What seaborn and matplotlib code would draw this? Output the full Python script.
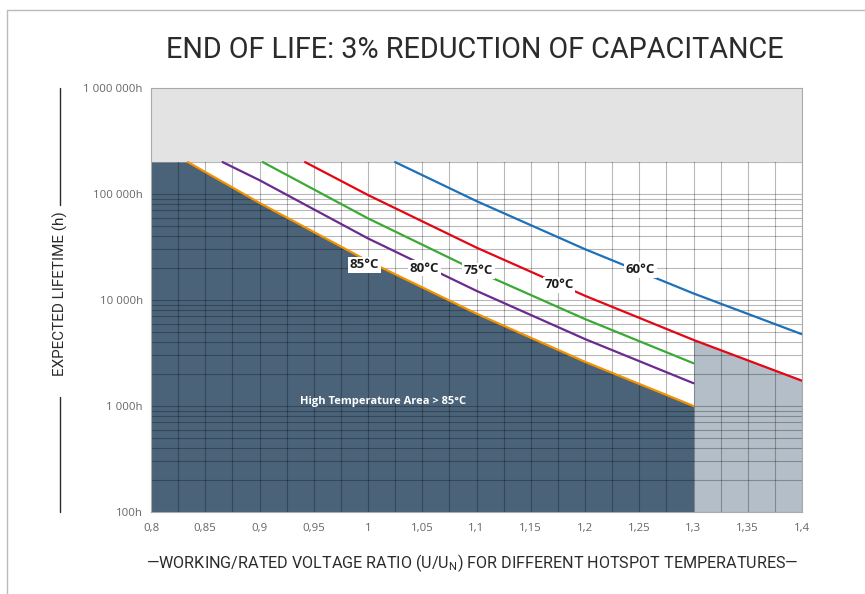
import numpy as np
import pandas as pd
import matplotlib
matplotlib.use("Agg")
import matplotlib.pyplot as plt
from matplotlib.ticker import FixedLocator, MultipleLocator, LogLocator, NullFormatter
import seaborn as sns

# ---------------- DATA ----------------
temps = ["85°C", "80°C", "75°C", "70°C", "60°C"]
x_85 = [0.834, 0.9, 1.0, 1.1, 1.2, 1.3]
life_85 = [200000, 82400, 23300, 7430, 2610, 1000]
x_80 = [0.866, 0.9, 1.0, 1.1, 1.2, 1.3]
life_80 = [200000, 135000, 38100, 12200, 4280, 1640]
x_75 = [0.903, 1.0, 1.1, 1.2, 1.3]
life_75 = [200000, 58900, 18800, 6610, 2530]
x_70 = [0.942, 1.0, 1.1, 1.2, 1.3, 1.4]
life_70 = [200000, 97800, 31200, 10960, 4200, 1730]
x_60 = [1.025, 1.1, 1.2, 1.3, 1.4]
life_60 = [200000, 85700, 30150, 11530, 4750]

label_x = [0.997, 1.052, 1.102, 1.176, 1.251]
label_y = [21400, 20000, 18800, 13900, 19200]

band_low, band_high = 200000, 1000000
xticks = [0.8, 0.85, 0.9, 0.95, 1.0, 1.05, 1.1, 1.15, 1.2, 1.25, 1.3, 1.35, 1.4]
xtick_labels = ["0,8", "0,85", "0,9", "0,95", "1", "1,05", "1,1", "1,15", "1,2", "1,25", "1,3", "1,35", "1,4"]
yticks = [100, 1000, 10000, 100000, 1000000]
ytick_labels = ["100h", "1 000h", "10 000h", "100 000h", "1 000 000h"]
high_temp_text = "High Temperature Area > 85°C"
high_temp_pos = (1.014, 1110)
limit_x = 1.3

title = "END OF LIFE: 3% REDUCTION OF CAPACITANCE"
ylabel = "EXPECTED LIFETIME (h)"
xlabel = r"—WORKING/RATED VOLTAGE RATIO (U/U$_{\mathregular{N}}$) FOR DIFFERENT HOTSPOT TEMPERATURES—"

colors = {"85°C": "#f39200", "80°C": "#6b2a8e", "75°C": "#3aaa35",
          "70°C": "#e30613", "60°C": "#1d71b8"}

# ---------------- build table ----------------
series = {"85°C": (x_85, life_85), "80°C": (x_80, life_80), "75°C": (x_75, life_75),
          "70°C": (x_70, life_70), "60°C": (x_60, life_60)}
rows = []
for t in temps:
    xs, ys = series[t]
    for a, b in zip(xs, ys):
        rows.append({"ratio": a, "life": b, "temp": t})
df = pd.DataFrame(rows)

sns.set_theme(style="white")
narrow = ["Roboto", "DejaVu Sans"]
plt.rcParams["font.family"] = narrow
plt.rcParams["mathtext.fontset"] = "custom"
plt.rcParams["mathtext.rm"] = "Roboto"

fig = plt.figure(figsize=(8.65, 5.94), dpi=100)
ax = fig.add_axes([151 / 865, 1 - 512 / 594, 651 / 865, 424 / 594])
ax.set_yscale("log")
ax.set_xlim(0.8, 1.4)
ax.set_ylim(100, 1000000)

# dark high-temperature area under the 85°C line
fx = [0.8] + x_85
fy = [band_low] + life_85
ax.fill_between(fx, fy, 100, color="#4b6379", lw=0, zorder=1)
# light area right of the limit, below the 70°C line
lx = [a for a in x_70 if a >= limit_x]
ly = [b for a, b in zip(x_70, life_70) if a >= limit_x]
ax.fill_between(lx, ly, 100, color="#b4bec8", lw=0, zorder=1)

# grid
ax.xaxis.set_major_locator(FixedLocator(xticks))
ax.xaxis.set_minor_locator(MultipleLocator(0.025))
ax.yaxis.set_major_locator(FixedLocator(yticks))
ax.yaxis.set_minor_locator(LogLocator(base=10, subs=np.arange(2, 10)))
ax.yaxis.set_minor_formatter(NullFormatter())
ax.set_axisbelow(False)
ax.grid(True, which="both", axis="both", color="black", alpha=0.28, lw=0.8)

# top band
ax.axhspan(band_low, band_high, color="#e3e3e3", lw=0, zorder=3)

sns.lineplot(data=df, x="ratio", y="life", hue="temp", palette=colors, hue_order=temps,
             sort=False, estimator=None, lw=1.6, legend=False, ax=ax, zorder=4)

for t, lxp, lyp in zip(temps, label_x, label_y):
    ax.text(lxp, lyp, t, ha="center", va="center", fontsize=9.5, fontweight="bold",
            color="#1e1e1e", family=["Open Sans", "DejaVu Sans"], zorder=5,
            bbox=dict(boxstyle="square,pad=0.12", fc="white", ec="none"))

ax.text(high_temp_pos[0], high_temp_pos[1], high_temp_text, ha="center", va="center",
        fontsize=8, fontweight="bold", color="white", family=["Open Sans", "DejaVu Sans"], zorder=5)

ax.set_xticklabels(xtick_labels)
ax.set_yticklabels(ytick_labels)
ax.tick_params(axis="both", which="major", labelsize=8.2, labelcolor="#666666",
               length=3, width=0.8, color="#888888", direction="out")
ax.tick_params(axis="y", which="minor", length=0)
ax.tick_params(axis="x", which="minor", length=0)
ax.tick_params(axis="x", which="major", pad=5)
ax.tick_params(axis="y", which="major", pad=3)
for lab in ax.get_xticklabels() + ax.get_yticklabels():
    lab.set_family(["Open Sans", "DejaVu Sans"])
for s in ["top", "right", "bottom", "left"]:
    ax.spines[s].set_color("#aaaaaa")
    ax.spines[s].set_linewidth(0.8)
for s in ax.spines.values():
    s.set_zorder(6)
ax.set_xlabel("")
ax.set_ylabel("")

# texts around the plot
fig.text(475 / 865, 1 - 50 / 594, title, ha="center", va="center", fontsize=20.7,
         color="#2b2b2b", family=narrow)
fig.text(472 / 865, 1 - 563 / 594, xlabel, ha="center", va="center", fontsize=11.6,
         color="#2b2b2b", family=narrow)
fig.text(60 / 865, 1 - 294 / 594, ylabel, ha="center", va="center", rotation=90,
         fontsize=11, color="#2b2b2b", family=narrow)
# lines beside the y label
fig.add_artist(plt.Line2D([60 / 865, 60 / 865], [1 - 88 / 594, 1 - 205 / 594], color="#2b2b2b", lw=1))
fig.add_artist(plt.Line2D([60 / 865, 60 / 865], [1 - 397 / 594, 1 - 512 / 594], color="#2b2b2b", lw=1))
# frame of the picture (top and left)
fig.add_artist(plt.Line2D([7 / 865, 1.0], [1 - 10 / 594, 1 - 10 / 594], color="#bbbbbb", lw=1))
fig.add_artist(plt.Line2D([7 / 865, 7 / 865], [1 - 10 / 594, 0.0], color="#bbbbbb", lw=1))

fig.savefig("out.png", dpi=100)
